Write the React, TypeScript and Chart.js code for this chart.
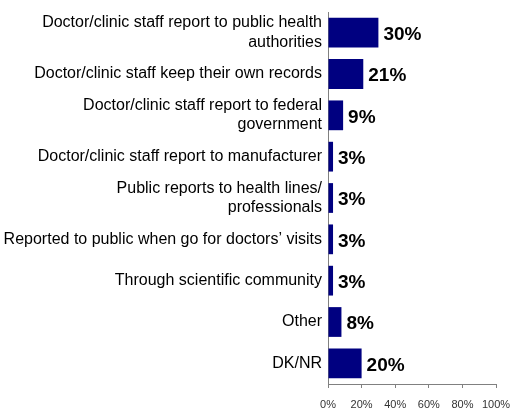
import React, { useEffect, useRef } from "react";
import { Chart, registerables } from "chart.js";

Chart.register(...registerables);

const categories: (string | string[])[] = [
  ["Doctor/clinic staff report to public health", "authorities"],
  "Doctor/clinic staff keep their own records",
  ["Doctor/clinic staff report to federal", "government"],
  "Doctor/clinic staff report to manufacturer",
  ["Public reports to health lines/", "professionals"],
  "Reported to public when go for doctors\u2019 visits",
  "Through scientific community",
  "Other",
  "DK/NR",
];
const values = [30, 21, 9, 3, 3, 3, 3, 8, 20];
const xTicks = [0, 20, 40, 60, 80, 100];

const FONT = "Arial, 'Liberation Sans', sans-serif";

const valueLabels = {
  id: "valueLabels",
  afterDatasetsDraw(chart: any) {
    const ctx = chart.ctx;
    const meta = chart.getDatasetMeta(0);
    ctx.save();
    ctx.font = `bold 19px ${FONT}`;
    ctx.fillStyle = "#000";
    ctx.textAlign = "left";
    ctx.textBaseline = "middle";
    meta.data.forEach((bar: any, i: number) => {
      ctx.fillText(values[i] + "%", bar.x + 5, bar.y + 2);
    });
    ctx.restore();
  },
};

export default function App() {
  const ref = useRef<HTMLCanvasElement>(null);
  useEffect(() => {
    if (!ref.current) return;
    const chart = new Chart(ref.current, {
      type: "bar",
      data: {
        labels: categories,
        datasets: [
          {
            data: values,
            backgroundColor: "#000080",
            barPercentage: 0.72,
            categoryPercentage: 1,
          },
        ],
      },
      options: {
        indexAxis: "y",
        animation: false,
        responsive: false,
        maintainAspectRatio: false,
        layout: { padding: { top: 4, right: 16, bottom: 0, left: 0 } },
        plugins: { legend: { display: false }, tooltip: { enabled: false } },
        scales: {
          x: {
            min: 0,
            max: 100,
            afterBuildTicks: (scale: any) => {
              scale.ticks = xTicks.map((v) => ({ value: v }));
            },
            afterFit: (scale: any) => {
              scale.height = 31;
              scale.paddingLeft = 0;
              scale.paddingRight = 0;
            },
            ticks: {
              callback: (v: any) => v + "%",
              font: { family: FONT, size: 11 },
              color: "#333",
              padding: 10,
              maxRotation: 0,
              autoSkip: false,
            },
            grid: {
              drawOnChartArea: false,
              drawTicks: true,
              tickLength: 4,
              color: "#808080",
            },
            border: { display: true, color: "#808080", width: 1 },
          },
          y: {
            afterFit: (scale: any) => {
              scale.width = 328;
              scale.paddingTop = 0;
              scale.paddingBottom = 0;
            },
            ticks: {
              font: { family: FONT, size: 16, lineHeight: 1.2 },
              color: "#000",
              padding: 6,
              autoSkip: false,
            },
            grid: { display: false, drawTicks: false },
            border: { display: true, color: "#808080", width: 1 },
          },
        },
      },
      plugins: [valueLabels],
    });
    return () => chart.destroy();
  }, []);
  return (
    <div style={{ position: "absolute", left: 0, top: 8, width: 512, height: 407 }}>
      <canvas ref={ref} width={512} height={407} style={{ display: "block" }} />
    </div>
  );
}
